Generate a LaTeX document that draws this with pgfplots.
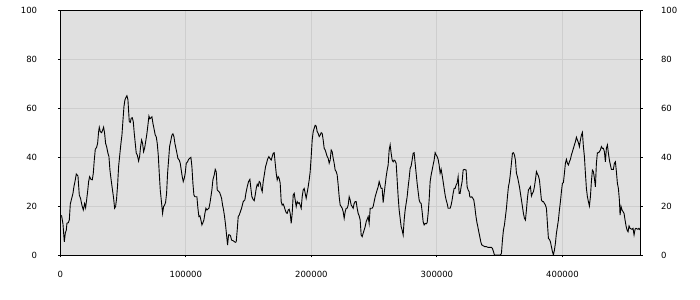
\documentclass[border=0pt]{standalone}
\usepackage{fontspec}
\setmainfont{DejaVu Sans}
\usepackage{pgfplots}
\pgfplotsset{compat=1.18}
\definecolor{bgc}{RGB}{224,224,224}
\definecolor{gridc}{RGB}{206,206,206}
\begin{document}
\begin{tikzpicture}
\useasboundingbox (0,0) rectangle (700bp,300bp);
\begin{axis}[
  at={(60.3bp,45bp)}, anchor=south west,
  scale only axis, width=580bp, height=244.7bp,
  xmin=0, xmax=462000, ymin=0, ymax=100,
  axis background/.style={fill=bgc},
  axis line style={black, line width=0.9bp},
  grid=major, major grid style={gridc, line width=0.9bp},
  xtick={0,100000,200000,300000,400000},
  ytick={0,20,40,60,80,100},
  xtick pos=lower, ytick pos=left,
  tick align=outside, major tick length=2.5bp,
  tick style={black, line width=0.9bp},
  scaled x ticks=false,
  /pgf/number format/assume math mode=true,
  /pgf/number format/fixed,
  /pgf/number format/set thousands separator={},
  ticklabel style={font=\fontsize{8.5bp}{10bp}\selectfont, inner sep=0pt},
  yticklabel style={anchor=east, xshift=-20.5bp},
  xticklabel style={anchor=north, yshift=-13.5bp},
]
\addplot[black, line width=0.9bp] coordinates {
(0,16.3)(1062,16)(2123,12.7)(3185,5.4)(3981,8.9)(4777,10.2)(5308,13)(6370,13.2)(7166,14.3)(7962,20.8)
(8758,22.5)(10085,25.2)(10881,28)(11943,30.7)(12739,33.1)(14066,32.3)(15128,24.5)(16189,23)(17251,20.3)(18313,18.4)
(19374,21)(20170,19.3)(20967,22.5)(21763,25.9)(22559,30)(23355,32)(24417,30.9)(25478,30.7)(26275,33.4)(27071,38.8)
(27867,43.2)(28929,44)(29725,45.6)(30521,50.4)(31052,52.2)(31848,50.4)(32910,50)(33706,51)(34502,52.2)(35298,49.7)
(36094,45.6)(36891,44.3)(37952,41.6)(38748,40.2)(39545,34.7)(40341,31.3)(41402,27.2)(42464,23.2)(43260,19.1)(44056,19.8)
(44853,23.2)(45649,28.6)(46445,36.1)(47507,41.6)(48303,45.6)(49099,49)(49895,54.9)(50691,60.6)(51488,63.4)(52284,64.4)
(53080,65.1)(53876,63.4)(54938,54.5)(55734,54.2)(56530,55.9)(57326,56.1)(58123,54.5)(58919,49.7)(59715,45.6)(60511,41.6)
(61307,40.9)(62369,38.4)(63165,40.2)(63961,44.3)(64758,47)(65554,45.6)(66350,42.2)(67146,43.6)(68208,47)(69004,49.7)
(69800,53.1)(70596,56.8)(71393,55.7)(72189,56.1)(72985,56.5)(73781,53.8)(74843,51.1)(75639,49)(76435,48.3)(77231,45.6)
(78028,40.9)(78824,33.4)(79620,26.6)(80416,22.5)(81478,17)(82274,19.8)(83070,20.4)(83866,21.5)(84663,25.2)(85459,33.4)
(86255,38.8)(87051,44.3)(88113,47)(88909,49)(89705,49.5)(90501,48.4)(91298,45.6)(92094,43.6)(92890,41.6)(93686,39.5)
(94748,38.8)(95544,37.5)(96340,34.7)(97136,32)(97933,30)(98729,31.3)(99525,33.4)(100321,37.5)(101383,38.1)(102179,39.1)
(102975,39.5)(104037,39.9)(104833,36.1)(105629,29.3)(106425,24.5)(107222,23.8)(108814,23.8)(109610,19.1)(110406,15.7)(111203,16)
(111999,14.3)(112795,12.3)(113591,13.2)(114387,14.3)(115184,17)(115980,19.1)(116776,18.4)(118368,19.1)(119165,21.1)(119961,23.8)
(120757,26.6)(121553,30.7)(122615,32.7)(123411,35)(124207,34.1)(125003,26.6)(126861,25.6)(127657,24.5)(128453,23.2)(129250,20.4)
(130046,18.4)(130842,15.7)(131638,12.3)(132434,8.2)(133231,4.1)(134027,8.2)(134823,8.2)(135619,7.8)(136416,6.1)(137477,5.9)
(139335,5.2)(140131,5.4)(140927,10.2)(141724,15.7)(142520,16.3)(144379,19.1)(145706,21.8)(147033,22.5)(147829,25.2)(148891,27.9)
(149952,30)(151014,30.9)(151810,27.2)(152606,23.8)(153668,22.7)(154464,22.2)(155260,24.5)(156057,27.2)(156853,28.9)(157649,28.2)
(158445,30)(159241,29.6)(160038,27.2)(160834,25.9)(161630,30)(162692,33.4)(163488,36.1)(164284,37.5)(165080,39.1)(166142,40.2)
(166938,39.5)(168000,38.8)(168796,40.2)(169592,41.6)(170388,41.8)(171184,37.5)(171981,33.4)(172777,30.7)(173573,32)(174369,31.3)
(175165,29.3)(175962,21.8)(176758,20.4)(177554,20.8)(178350,19.8)(179146,18.4)(179943,17.3)(180739,17)(181535,18.4)(182331,18.7)
(183127,17)(183924,12.9)(184720,17)(185516,24.5)(186312,25.2)(187108,22.5)(187905,19.8)(188701,21.8)(189497,21.1)(190293,21.4)
(191089,20.4)(191886,19.1)(192682,23.8)(193478,26.6)(194274,27.2)(195070,25.2)(195867,23.2)(196663,25.5)(197459,27.9)(198255,30.7)
(199051,34.1)(199848,40.2)(200644,47)(201440,50.4)(202236,51.8)(203032,53)(203829,52.7)(204625,50.4)(205421,49.7)(206217,48.4)
(207013,49)(207810,50)(208606,49.7)(209402,47)(210198,43.6)(210994,42.9)(211791,41.6)(212587,40.2)(213383,39.5)(214179,37.5)
(214975,38.8)(215772,42.9)(216568,42.2)(217364,39.5)(218160,37.5)(218956,34.7)(219753,34.1)(220549,32.7)(221345,28.6)(222141,23.8)
(222937,20.4)(223734,19.8)(224530,19.1)(225326,17.7)(226122,15)(226918,17.7)(227715,19.1)(228511,19.1)(229307,20.4)(230103,23.8)
(230899,22.5)(231696,20.4)(232492,19.8)(233288,19.1)(234084,21.1)(234880,21.8)(235677,21.8)(236473,19.1)(237269,17)(238065,16)
(238861,14.3)(239658,8.2)(240454,7.5)(241250,8.9)(242046,10.2)(242842,11.6)(243639,13.6)(244435,14.6)(245231,15.7)(246027,12.9)
(246823,19.1)(248416,19.1)(249212,19.8)(250008,21.8)(250804,23.8)(251601,25.2)(252397,26.6)(253193,27.9)(253989,30)(254785,28.6)
(255582,27.2)(256378,27.2)(257174,21.4)(257970,25.2)(258766,28.6)(259563,32)(260359,34.7)(261155,36.8)(261951,42.9)(262747,45)
(263544,41.6)(264340,38.8)(265136,38.1)(265932,38.8)(266728,38.4)(267525,37.5)(268321,30.7)(269117,23.8)(269913,18.4)(270709,15)
(271506,11.6)(272302,10.2)(273098,8.2)(273894,14.3)(274690,18.4)(275487,21.1)(276283,23.8)(277079,27.9)(277875,31.3)(278671,35.4)
(279468,36.4)(280264,38.8)(281060,41.6)(281856,41.8)(282652,37.5)(283449,33.4)(284245,29.3)(285041,25.9)(285837,22.5)(286633,21.4)
(287430,21.1)(288226,17.7)(289022,13.6)(289818,12.3)(290614,12.9)(291411,12.7)(292207,13.2)(293003,17)(293799,22.5)(294595,30)
(295392,32.7)(296188,34.7)(296984,36.8)(297780,38.8)(298576,41.8)(299373,40.9)(300169,40.2)(300965,39.1)(301761,36.8)(302557,33.4)
(303354,35)(304150,32.7)(304946,30)(305742,27.2)(306538,24.5)(307335,22.5)(308131,21.1)(308927,19.1)(310519,19.1)(311316,20.4)
(312112,22.5)(312908,25.2)(313704,27.2)(314500,27.2)(315297,28.6)(316093,29.3)(316889,32)(317685,25.2)(318481,25.2)(319278,27.9)
(320074,30)(320870,34.7)(321666,35)(323259,34.7)(324055,27.9)(324851,26.6)(325647,25.9)(326179,23.8)(326975,23.6)(327771,23.8)
(328568,23.2)(329364,22.5)(330160,19.8)(330956,16.3)(331752,13.6)(332549,11.6)(333345,9.5)(334141,7.5)(334937,5.4)(335733,4.1)
(336795,3.8)(338122,3.4)(339449,3.4)(340776,3.1)(343430,3.1)(344226,2.7)(345022,1.4)(345819,0)(350596,0)(351392,0.7)
(352188,6.1)(352984,10.2)(353781,12.3)(354577,15.7)(355373,19.1)(356169,23.8)(356965,27.9)(357762,30)(358558,33.4)(359354,37.5)
(360150,41.6)(360946,41.8)(361743,40.9)(362539,38.8)(363335,33.4)(364131,32)(364927,30)(365724,27.9)(366520,25.2)(367316,22.5)
(368112,19.8)(368908,17)(369705,15)(370501,14.3)(371297,18.4)(372093,23.2)(372889,26.6)(373686,27.2)(374482,27.9)(375278,24.1)
(376074,25.2)(376870,25.9)(377667,27.9)(378463,30.7)(379259,34.1)(380055,33.1)(380851,32.3)(381648,30.7)(382444,26.6)(383240,22.5)
(384036,21.8)(384832,21.8)(385629,21.1)(386425,20.4)(387221,19.1)(388017,12.9)(388813,6.8)(389610,6.4)(390406,5.4)(391202,3.4)
(391998,1.4)(392794,0)(393591,2)(394387,4.8)(395183,8.9)(395979,11.6)(396775,14.3)(397572,18.4)(398368,21.8)(399164,25.9)
(399960,29.3)(400756,29.6)(401553,33.4)(402349,37.5)(403145,39.1)(403941,37.5)(404737,36.8)(405534,38.1)(406330,39.1)(407126,40.9)
(407922,42.2)(408718,43.6)(409515,45)(410311,46.3)(411107,48.1)(411903,47)(412699,45.9)(413496,44.3)(414292,47)(415088,49)
(415884,50.1)(416680,44.3)(417477,40.2)(418273,33.4)(419069,27.2)(419865,23.8)(420661,21.8)(421458,20)(422254,23.8)(423050,30)
(423846,34.7)(424642,34.1)(425439,31.3)(426235,27.9)(427031,37.5)(427827,41.8)(428623,41.8)(429420,42.2)(430216,42.9)(431012,44.3)
(431808,43.6)(432604,43.6)(433401,42.2)(434197,38.1)(434993,43.6)(435789,45)(436585,41.6)(437382,38.8)(438178,36.8)(438974,35)
(440566,35)(441363,37.5)(442159,38.1)(442955,34.1)(443751,29.3)(444547,27.2)(445344,22.5)(445874,16.3)(446671,19.8)(447467,18.4)
(448263,17.7)(449059,17)(449855,14.3)(450652,11.9)(451448,10.2)(452244,9.5)(453040,11.9)(453836,10.9)(455429,10.5)(456225,10.9)
(457021,8.2)(457817,10.5)(458614,10.9)(460206,10.5)(461002,10.9)(461798,10.2)
};
\end{axis}
\begin{axis}[
  at={(60.3bp,45bp)}, anchor=south west,
  scale only axis, width=580bp, height=244.7bp,
  xmin=0, xmax=462000, ymin=0, ymax=100,
  hide x axis,
  axis y line*=right,
  axis line style={black, line width=0.9bp},
  ytick={0,20,40,60,80,100},
  tick align=outside, major tick length=2.5bp,
  tick style={black, line width=0.9bp},
  /pgf/number format/assume math mode=true,
  ticklabel style={font=\fontsize{8.5bp}{10bp}\selectfont, inner sep=0pt},
  yticklabel style={anchor=west, xshift=18bp},
]
\end{axis}
\end{tikzpicture}
\end{document}
